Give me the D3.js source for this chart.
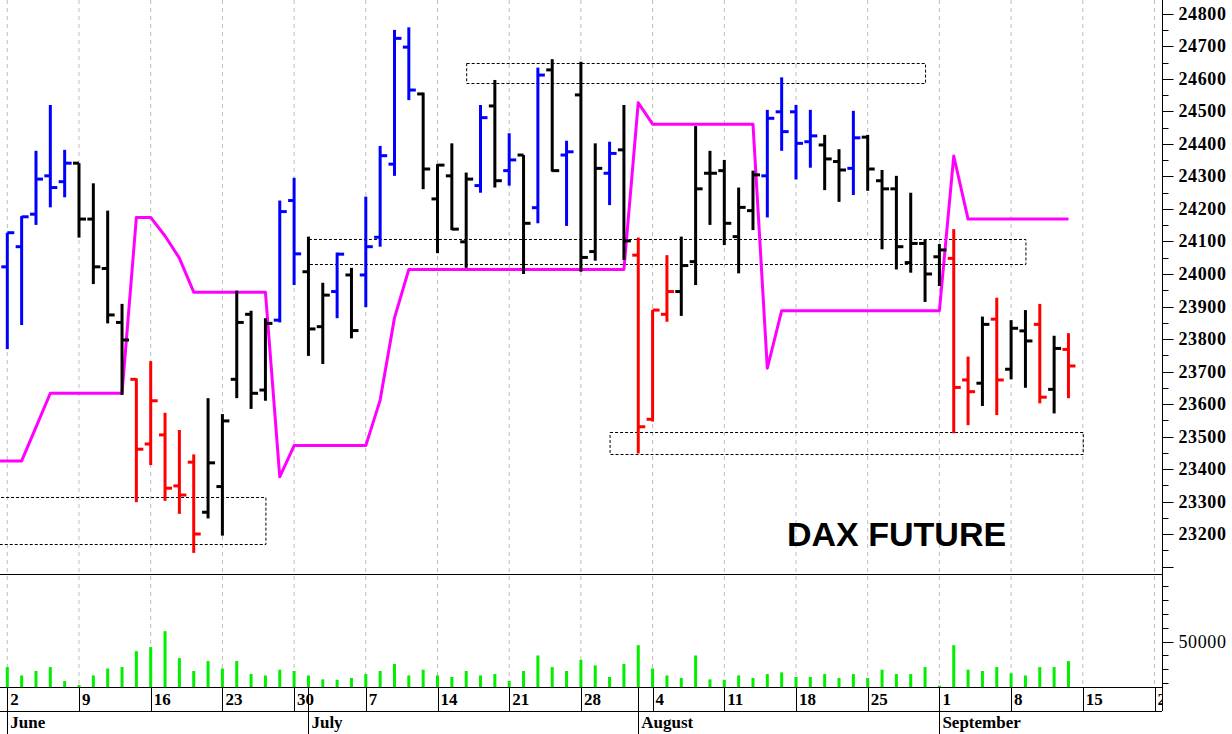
<!DOCTYPE html>
<html>
<head>
<meta charset="utf-8">
<script src="https://cdn.jsdelivr.net/npm/d3@7"></script>
<style>
  html, body { margin: 0; padding: 0; background: #fff; }
  svg { display: block; }
</style>
</head>
<body>
<svg id="chart" width="1232" height="734"></svg>
<script>
// daily bars, first one is Mon 2 June 2025, one per weekday
var firstDay = '2025-06-02'
var opens  = [24022,24084,24184,24302,24284, 24341,24169,24017,23851,23676, 23477,23505,23348,23421,23267,
              23346,23676,23876,23643,23858, 24226,24007,23838,23946,23997, 23997,24113,24338,24698,24554,
              24231,24302,24099,24272,24517, 24318,24366,24204,24628,24366, 24551,24069,24310,24382,24058,
              23553,23876,23946,24038,24310, 24318,24115,24195,24302,24499, 24499,24407,24397,24346,24325,
              24421,24287,24262,24035,24094, 24053,24048,23674,23664,23861, 23707,23825,23845,23645,23768]
var highs  = [24127,24178,24379,24520,24382, 24341,24279,24195,23908,23679, 23732,23573,23520,23445,23618,
              23569,23949,23887,23864,24226, 24296,24115,23973,24066,24019, 24238,24394,24751,24759,24558,
              24338,24402,24312,24520,24597, 24433,24366,24635,24661,24410, 24653,24402,24407,24520,24112,
              23889,24058,24115,24455,24379, 24351,24266,24318,24505,24605, 24520,24505,24428,24384,24502,
              24428,24320,24302,24250,24107, 24092,24138,23746,23869,23927, 23858,23889,23908,23810,23818]
var lows   = [23769,23843,24151,24205,24236, 24112,23969,23848,23628,23298, 23412,23302,23262,23142,23248,
              23195,23618,23585,23610,23851, 23966,23748,23723,23864,23802, 23898,24084,24302,24535,24261,
              24064,24135,24019,24250,24266, 24272,24000,24156,24315,24148, 24007,24041,24212,24043,23448,
              23546,23853,23871,23966,24151, 24089,24002,24135,24174,24379, 24291,24327,24258,24222,24243,
              24256,24076,24014,24004,23914, 23963,23510,23535,23594,23566, 23676,23650,23602,23571,23618]
var closes = [24127,24176,24292,24266,24341, 24169,24022,23874,23797,23461, 23610,23341,23320,23200,23419,
              23548,23851,23633,23848,24192, 24062,23831,23935,24061,23826, 24084,24364,24725,24566,24323,
              24335,24138,24292,24481,24287, 24351,24156,24612,24318,24376, 24051,24325,24371,24102,23530,
              23889,23946,24026,24262,24310, 24156,24205,24305,24479,24438, 24402,24425,24354,24320,24419,
              24323,24262,24084,24094,24000, 24074,23651,23638,23845,23674, 23833,23794,23621,23771,23717]
// b = up trend, k = neutral, r = down trend
var trend  = ['b','b','b','b','b', 'k','k','k','k','r', 'r','r','r','r','k',
              'k','k','k','k','b', 'b','k','k','b','k', 'b','b','b','b','k',
              'k','k','k','b','k', 'b','k','b','k','b', 'k','k','b','k','r',
              'r','r','k','k','k', 'k','k','k','b','b', 'b','b','k','k','b',
              'k','k','k','k','k', 'k','r','r','k','r', 'k','k','r','k','r']
var volume = [31700,25700,28900,31700,21700, 18900,25700,30700,31700,43100, 46000,57400,38100,28900,36000,
              30700,36000,26700,25700,29800, 28900,25700,22900,22600,23900, 26700,28900,33900,25700,29800,
              25700,24600,28900,25700,26700, 21700,28900,40000,31700,28900, 36900,32900,24600,33900,47400,
              30700,25700,23900,40000,22900, 22600,25700,23900,26700,27900, 24600,24600,26700,23900,26700,
              23900,29800,26700,26700,31700, 18400,47400,29800,28900,31700, 27300,25700,31700,31700,36000]
// trailing stop line
var stop   = [23425,23425,23529,23633,23633, 23633,23633,23633,23633,24174, 24174,24117,24049,23944,23944,
              23944,23944,23944,23944,23376, 23472,23472,23472,23472,23472, 23472,23612,23865,24014,24014,
              24014,24014,24014,24014,24014, 24014,24014,24014,24014,24014, 24014,24014,24014,24014,24527,
              24461,24461,24461,24461,24461, 24461,24461,24461,23710,23887, 23887,23887,23887,23887,23887,
              23887,23887,23887,23887,23887, 23887,24363,24169,24169,24169, 24169,24169,24169,24169,24169]

// dashed support / resistance boxes
var zoneFrom = ['2025-05-26','2025-07-16','2025-07-01','2025-07-30']
var zoneTo   = ['2025-06-26','2025-08-29','2025-09-09','2025-09-15']
var zoneHigh = [23313,24648,24107,23515]
var zoneLow  = [23169,24587,24030,23446]

var priceTicks = d3.range(23100, 24851, 50)
var priceLabels = d3.range(23200, 24801, 100)
var volTicks = d3.range(20000, 90001, 10000)
var volLabels = [50000]
var months = ['January','February','March','April','May','June','July','August','September','October','November','December']
var title = 'DAX FUTURE'

var colors = {b: '#0000ff', k: '#000000', r: '#ff0000'}

var width = 1232
var plotRight = 1162
var priceBottom = 574
var volBottom = 687
var dayRowBottom = 711
var height = 734
var nDays = 81 // calendar runs 2 weeks past the last bar

var svg = d3.select('#chart')

var start = new Date(firstDay + 'T00:00:00Z')
// trading day number of a date (weekdays only)
function tradeIndex(s) {
  var days = d3.utcDay.count(start, new Date(s + 'T00:00:00Z'))
  return Math.floor(days / 7) * 5 + (((days % 7) + 7) % 7)
}
var days = d3.range(nDays).map(function(i) {
  return d3.utcDay.offset(start, Math.floor(i / 5) * 7 + i % 5)
})

var x = d3.scaleLinear().domain([0, 80]).range([7.3, 1154.5])
var y = d3.scaleLinear().domain([23077, 24843]).range([priceBottom, 0])
var yv = d3.scaleLinear().domain([17430, 98360]).range([volBottom, priceBottom])

svg.append('defs').append('clipPath').attr('id', 'plotclip')
  .append('rect').attr('x', 0).attr('y', 0).attr('width', plotRight).attr('height', volBottom)

// weekly grid lines
var mondays = d3.range(nDays).filter(function(i) { return i % 5 == 0 })
svg.append('g').selectAll('line').data(mondays).enter().append('line')
  .attr('x1', function(d) { return x(d) }).attr('x2', function(d) { return x(d) })
  .attr('y1', 0).attr('y2', volBottom)
  .attr('stroke', '#bdbdbd').attr('stroke-width', 1).attr('stroke-dasharray', '4,4')

var plot = svg.append('g').attr('clip-path', 'url(#plotclip)')

// boxes
plot.append('g').selectAll('rect').data(zoneHigh).enter().append('rect')
  .attr('x', function(d, i) { return x(tradeIndex(zoneFrom[i])) + 0.5 })
  .attr('y', function(d) { return Math.round(y(d)) + 0.5 })
  .attr('width', function(d, i) { return x(tradeIndex(zoneTo[i])) - x(tradeIndex(zoneFrom[i])) })
  .attr('height', function(d, i) { return Math.round(y(zoneLow[i]) - y(d)) })
  .attr('fill', 'none').attr('stroke', '#000').attr('stroke-width', 1).attr('stroke-dasharray', '3,2')

// stop line
var pts = stop.map(function(v, i) { return [x(i), y(v)] })
pts.unshift([x(-1), y(stop[0])])
plot.append('path').attr('d', d3.line()(pts))
  .attr('fill', 'none').attr('stroke', '#ff00ff').attr('stroke-width', 3).attr('stroke-linejoin', 'round')

// ohlc bars
var bars = plot.append('g').selectAll('g').data(opens).enter().append('g')
  .attr('stroke', function(d, i) { return colors[trend[i]] })
  .attr('stroke-width', 3)
bars.append('line')
  .attr('x1', function(d, i) { return x(i) }).attr('x2', function(d, i) { return x(i) })
  .attr('y1', function(d, i) { return y(highs[i]) }).attr('y2', function(d, i) { return y(lows[i]) })
bars.append('line')
  .attr('x1', function(d, i) { return x(i) - 6 }).attr('x2', function(d, i) { return x(i) })
  .attr('y1', function(d) { return y(d) }).attr('y2', function(d) { return y(d) })
bars.append('line')
  .attr('x1', function(d, i) { return x(i) }).attr('x2', function(d, i) { return x(i) + 7 })
  .attr('y1', function(d, i) { return y(closes[i]) }).attr('y2', function(d, i) { return y(closes[i]) })

// volume
plot.append('g').selectAll('rect').data(volume).enter().append('rect')
  .attr('x', function(d, i) { return x(i) - 1.5 })
  .attr('y', function(d) { return yv(d) })
  .attr('width', 3)
  .attr('height', function(d) { return volBottom - yv(d) })
  .attr('fill', '#00f000')

svg.append('text').text(title)
  .attr('x', 787).attr('y', 546)
  .attr('font-family', 'Liberation Sans, Arial, sans-serif').attr('font-weight', 'bold')
  .attr('font-size', 34).attr('fill', '#000')

// panel frame lines
svg.append('g').selectAll('line').data([priceBottom, volBottom, dayRowBottom]).enter().append('line')
  .attr('x1', 0).attr('x2', plotRight).attr('y1', function(d) { return d + 0.5 }).attr('y2', function(d) { return d + 0.5 })
  .attr('stroke', '#000').attr('stroke-width', 1)
svg.append('line').attr('x1', plotRight + 0.5).attr('x2', plotRight + 0.5).attr('y1', 0).attr('y2', dayRowBottom)
  .attr('stroke', '#000').attr('stroke-width', 1)

// right price axis
var ax = svg.append('g').attr('transform', 'translate(' + (plotRight + 0.5) + ',0)')
ax.selectAll('line').data(priceTicks).enter().append('line')
  .attr('x1', 0).attr('x2', function(d) { return d % 100 == 0 ? 11 : 6 })
  .attr('y1', function(d) { return Math.round(y(d)) + 0.5 }).attr('y2', function(d) { return Math.round(y(d)) + 0.5 })
  .attr('stroke', '#000')
ax.selectAll('text').data(priceLabels).enter().append('text')
  .attr('x', 16).attr('y', function(d) { return y(d) + 6 })
  .text(function(d) { return d })
  .attr('font-family', 'Liberation Serif, Times New Roman, serif').attr('font-weight', 'bold')
  .attr('font-size', 18).attr('letter-spacing', 0.6).attr('fill', '#000')

// volume axis
var vax = svg.append('g').attr('transform', 'translate(' + (plotRight + 0.5) + ',0)')
vax.selectAll('line').data(volTicks).enter().append('line')
  .attr('x1', 0).attr('x2', function(d) { return volLabels.indexOf(d) >= 0 ? 11 : 6 })
  .attr('y1', function(d) { return Math.round(yv(d)) + 0.5 }).attr('y2', function(d) { return Math.round(yv(d)) + 0.5 })
  .attr('stroke', '#000')
vax.selectAll('text').data(volLabels).enter().append('text')
  .attr('x', 16).attr('y', function(d) { return yv(d) + 6 })
  .text(function(d) { return d })
  .attr('font-family', 'Liberation Serif, Times New Roman, serif')
  .attr('font-size', 18).attr('letter-spacing', 0.6).attr('fill', '#000')

// date rows
var dateClip = svg.append('defs').append('clipPath').attr('id', 'dateclip')
dateClip.append('rect').attr('x', 0).attr('y', volBottom).attr('width', plotRight).attr('height', height - volBottom)
var dates = svg.append('g').attr('clip-path', 'url(#dateclip)')
var fontSerif = 'Liberation Serif, Times New Roman, serif'

dates.selectAll('line.wk').data(mondays).enter().append('line')
  .attr('x1', function(d) { return Math.round(x(d)) + 0.5 }).attr('x2', function(d) { return Math.round(x(d)) + 0.5 })
  .attr('y1', volBottom).attr('y2', dayRowBottom)
  .attr('stroke', '#000')
dates.selectAll('text.wk').data(mondays).enter().append('text')
  .attr('x', function(d) { return x(d) + 3 }).attr('y', volBottom + 18)
  .text(function(d) { return days[d].getUTCDate() })
  .attr('font-family', fontSerif).attr('font-weight', 'bold').attr('font-size', 17).attr('fill', '#000')

var monthStarts = d3.range(nDays).filter(function(i) {
  return i == 0 || days[i].getUTCMonth() != days[i - 1].getUTCMonth()
})
dates.selectAll('line.mo').data(monthStarts).enter().append('line')
  .attr('x1', function(d) { return Math.round(x(d)) + 0.5 }).attr('x2', function(d) { return Math.round(x(d)) + 0.5 })
  .attr('y1', volBottom).attr('y2', height)
  .attr('stroke', '#000')
dates.selectAll('text.mo').data(monthStarts).enter().append('text')
  .attr('x', function(d) { return x(d) + 3 }).attr('y', height - 6)
  .text(function(d) { return months[days[d].getUTCMonth()] })
  .attr('font-family', fontSerif).attr('font-weight', 'bold').attr('font-size', 17).attr('fill', '#000')
</script>
</body>
</html>
